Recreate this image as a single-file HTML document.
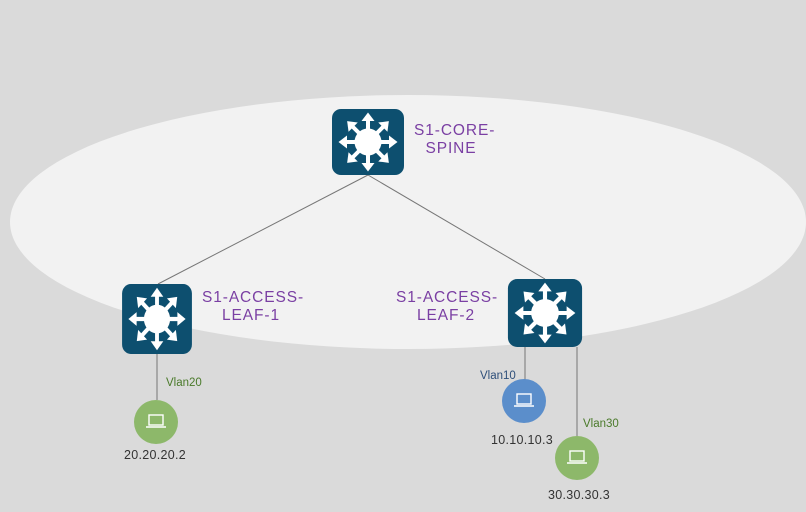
<!DOCTYPE html>
<html><head><meta charset="utf-8"><style>
html,body{margin:0;padding:0;background:#dadada;}
svg{display:block;font-family:"Liberation Sans",sans-serif;}
</style></head><body>
<svg width="806" height="512" viewBox="0 0 806 512" xmlns="http://www.w3.org/2000/svg">
<defs>
<g id="sw">
<rect x="-36" y="-33" width="72" height="66" rx="9" fill="#0d4f6f"/>
<circle r="13.5" fill="#fff"/>
<g fill="#fff" stroke="#fff">
<g id="arr"><line x1="0" y1="0" x2="0" y2="-23" stroke-width="4"/><polygon points="-6.5,-21 6.5,-21 0,-29.5" stroke="none"/></g>
<use href="#arr" transform="rotate(45)"/><use href="#arr" transform="rotate(90)"/><use href="#arr" transform="rotate(135)"/>
<use href="#arr" transform="rotate(180)"/><use href="#arr" transform="rotate(225)"/><use href="#arr" transform="rotate(270)"/><use href="#arr" transform="rotate(315)"/>
</g>
</g>
<g id="pc" fill="none" stroke="#fff" stroke-width="1.4">
<rect x="-7" y="-7" width="14" height="10"/><line x1="-10" y1="5" x2="10" y2="5"/>
</g>
</defs>
<rect width="806" height="512" fill="#dadada"/>
<ellipse cx="408" cy="222" rx="398" ry="127" fill="#f2f2f2"/>
<g stroke="#777" stroke-width="1">
<line x1="368" y1="175" x2="158" y2="284"/>
<line x1="368" y1="175" x2="545" y2="279"/>
<line x1="157" y1="354" x2="157" y2="400"/>
<line x1="525" y1="347" x2="525" y2="380"/>
<line x1="577" y1="347" x2="577" y2="436"/>
</g>
<use href="#sw" transform="translate(368,142)"/>
<use href="#sw" transform="translate(157,319) scale(0.97,1.06)"/>
<use href="#sw" transform="translate(545,313) scale(1.03,1.03)"/>
<circle cx="156" cy="422" r="22" fill="#8db86a"/><use href="#pc" transform="translate(156,422)"/>
<circle cx="524" cy="401" r="22" fill="#5b8ecb"/><use href="#pc" transform="translate(524,401)"/>
<circle cx="577" cy="458" r="22" fill="#8db86a"/><use href="#pc" transform="translate(577,458)"/>
<g fill="#7a3fa3" font-size="15.5" letter-spacing="0.9">
<text x="414" y="135">S1-CORE-</text>
<text x="451" y="153" text-anchor="middle">SPINE</text>
<text x="202" y="302">S1-ACCESS-</text>
<text x="251" y="320" text-anchor="middle">LEAF-1</text>
<text x="396" y="302">S1-ACCESS-</text>
<text x="446" y="320" text-anchor="middle">LEAF-2</text>
</g>
<g font-size="11.5">
<text x="166" y="386" fill="#4a7a2a">Vlan20</text>
<text x="480" y="379" fill="#2e4f7a">Vlan10</text>
<text x="583" y="427" fill="#4a7a2a">Vlan30</text>
<g fill="#333" text-anchor="middle" font-size="12.5" letter-spacing="0.3">
<text x="155" y="459">20.20.20.2</text>
<text x="522" y="444">10.10.10.3</text>
<text x="579" y="499">30.30.30.3</text>
</g>
</g>
</svg>
</body></html>
